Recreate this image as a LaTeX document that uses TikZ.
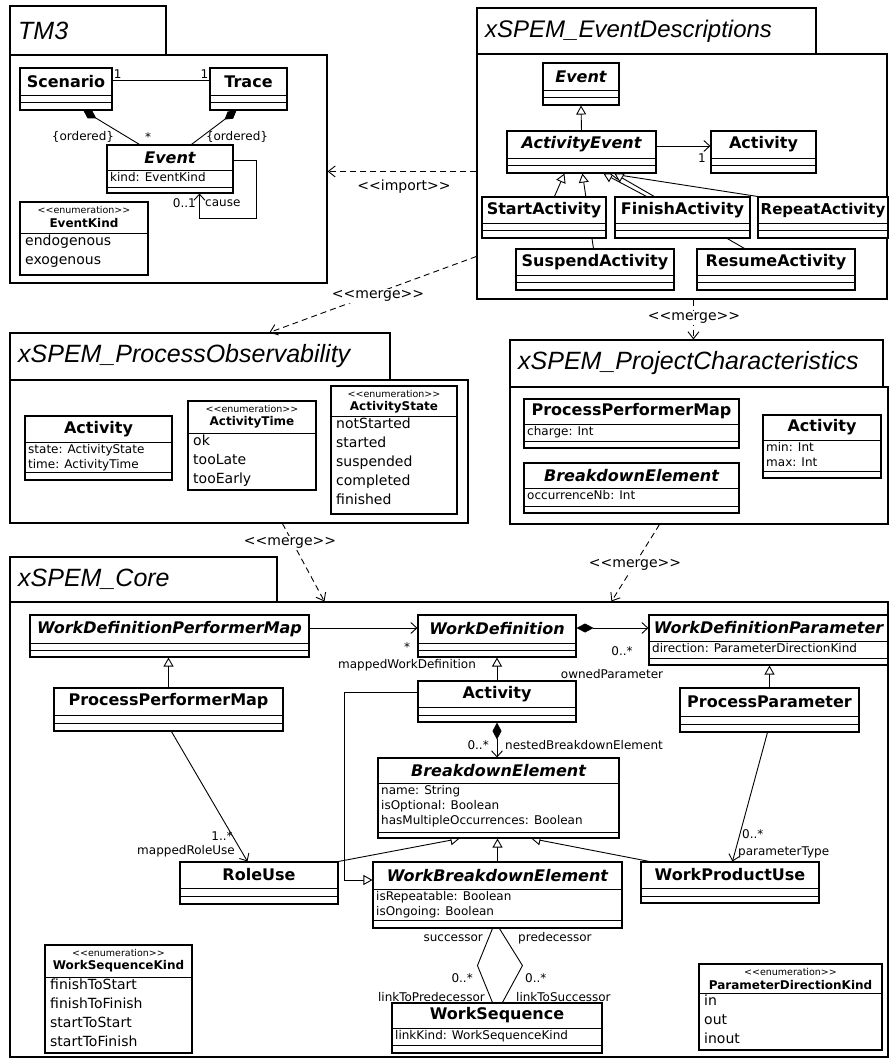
\documentclass[tikz,border=0pt]{standalone}
\usepackage{fontspec}
\setmainfont{DejaVu Sans}
\newfontfamily\ttlfont{Liberation Sans}
\usetikzlibrary{arrows.meta,fit,calc}
\pgfdeclarelayer{bgl}
\pgfdeclarelayer{edgel}
\pgfsetlayers{bgl,edgel,main}
\newcommand{\ster}[1]{<\kern0pt<#1>\kern0pt>}
\tikzset{
  cls/.style={draw, fill=white, inner sep=0pt, line width=1.1pt},
  pkg/.style={draw, inner sep=0pt, line width=1.1pt},
  divl/.style={line width=0.8pt},
  cname/.style={font={\bfseries\fontsize{16}{18}\selectfont}, inner sep=0pt},
  attr/.style={font={\fontsize{12}{15}\selectfont}, inner sep=2pt, align=left},
  lit/.style={font={\fontsize{14}{19}\selectfont}, inner sep=2pt, align=left},
  stfont/.style={font={\fontsize{9.5}{11}\selectfont}, inner sep=0pt},
  enname/.style={font={\bfseries\fontsize{12}{14}\selectfont}, inner sep=0pt},
  lnk/.style={line width=0.9pt},
  gen/.style={lnk, -{Triangle[open, fill=white, length=9pt, width=10pt]}},
  nav/.style={lnk, -{Straight Barb[length=6pt, width=11pt]}},
  compnav/.style={lnk, {Diamond[length=17pt, width=9pt]}-{Straight Barb[length=6pt, width=11pt]}},
  compo/.style={lnk, {Diamond[length=15pt, width=9pt]}-},
  depnd/.style={lnk, dash pattern=on 6pt off 4pt, -{Straight Barb[length=7pt, width=11pt]}},
  mult/.style={font={\fontsize{12}{14}\selectfont}, inner sep=1pt},
  sterl/.style={font={\fontsize{14}{16}\selectfont}, inner sep=1pt, fill=white},
}
% class: name, x1, y1, x2, y2, div1, div2, title, attributes
\newcommand{\ucls}[9]{%
  \node[cls, fit={(#2,#3) (#4,#5)}] (#1) {};
  \draw[divl] (#2,#6) -- (#4,#6) (#2,#7) -- (#4,#7);
  \node[cname] at ({(#2+#4)/2},{(#3+#6)/2}) {#8};
  \node[attr, anchor=north west] at ({#2+1},{#6}) {#9};
}
% enumeration: name, x1, y1, x2, y2, div, title, literals
\newcommand{\uenum}[8]{%
  \node[cls, fit={(#2,#3) (#4,#5)}] (#1) {};
  \draw[divl] (#2,#6) -- (#4,#6);
  \node[stfont] at ({(#2+#4)/2},{#3+8}) {\ster{enumeration}};
  \node[enname] at ({(#2+#4)/2},{#3+21.5}) {#7};
  \node[lit, anchor=north west] at ({#2+3},{#6}) {#8};
}
% package: name, x1, y1, tab x2, tab y2, body x2, body y2, title, size
\newcommand{\upkg}[9]{%
  \node[pkg, fit={(#2,#3) (#4,#5)}] (#1tab) {};
  \node[pkg, fit={(#2,#5) (#6,#7)}] (#1) {};
  \node[anchor=west, inner sep=0pt, font={\ttlfont\itshape\fontsize{#9}{#9}\selectfont}] at ({#2+8},{(#3+#5)/2}) {#8};
}
\begin{document}
\begin{tikzpicture}[x=1pt,y=-1pt]
\useasboundingbox (0,0) rectangle (889,1059);
\begin{pgfonlayer}{bgl}
\fill[white] (0,0) rectangle (889,1059);
\end{pgfonlayer}

% ---------- TM3 ----------
\upkg{tm}{10}{6}{166}{55}{327}{283}{TM3}{25}
\ucls{scen}{20}{68}{112}{110}{95}{102.5}{Scenario}{}
\ucls{trace}{210}{68}{287}{110}{95}{102.5}{Trace}{}
\ucls{ev}{107}{145}{233}{193}{170}{187}{\itshape Event}{kind: EventKind}
\uenum{evk}{20}{202}{148}{275}{233}{EventKind}{endogenous\\exogenous}

% ---------- xSPEM_EventDescriptions ----------
\upkg{ed}{477}{8}{816}{54}{887}{299}{xSPEM\_EventDescriptions}{24}
\ucls{edev}{543}{63}{619}{105}{90}{97.5}{\itshape Event}{}
\ucls{ae}{507}{131}{656}{173}{158}{165.5}{\itshape ActivityEvent}{}
\ucls{edact}{711}{131}{816}{173}{158}{165.5}{Activity}{}
\ucls{sa}{482}{197}{606}{238}{223}{230.5}{StartActivity}{}
\ucls{fa}{615}{197}{750}{238}{223}{230.5}{FinishActivity}{}
\ucls{ra}{758}{197}{888}{238}{223}{230.5}{\fontsize{15}{17}\selectfont RepeatActivity}{}
\ucls{susp}{516}{249}{674}{290}{275}{282.5}{SuspendActivity}{}
\ucls{res}{697}{249}{855}{290}{275}{282.5}{ResumeActivity}{}

% ---------- xSPEM_ProcessObservability ----------
\upkg{po}{10}{333}{390}{380}{468}{523}{xSPEM\_ProcessObservability}{25}
\ucls{poact}{25}{416}{172}{480}{442}{472}{Activity}{state: ActivityState\\time: ActivityTime}
\uenum{atime}{188}{401}{316}{490}{433}{ActivityTime}{ok\\tooLate\\tooEarly}
\uenum{astate}{331}{386}{457}{514}{416}{ActivityState}{notStarted\\started\\suspended\\completed\\finished}

% ---------- xSPEM_ProjectCharacteristics ----------
\upkg{pc}{510}{340}{883}{387}{888}{524}{xSPEM\_ProjectCharacteristics}{25}
\ucls{pcppm}{524}{399}{739}{448}{424}{441}{ProcessPerformerMap}{charge: Int}
\ucls{pcbe}{524}{463}{739}{513}{488}{506}{\itshape BreakdownElement}{occurrenceNb: Int}
\ucls{pcact}{763}{415}{881}{478}{440}{471}{Activity}{min: Int\\max: Int}

% ---------- xSPEM_Core ----------
\upkg{core}{10}{557}{277}{602}{888}{1057}{xSPEM\_Core}{25}
\ucls{wdpm}{30}{615}{309}{657}{643}{650}{\itshape WorkDefinitionPerformerMap}{}
\ucls{ppm}{54}{688}{283}{731}{715}{723}{ProcessPerformerMap}{}
\ucls{wd}{418}{615}{576}{657}{643}{650}{\itshape WorkDefinition}{}
\ucls{cact}{418}{681}{576}{722}{707}{715}{Activity}{}
\ucls{wdp}{649}{615}{888}{665}{641}{658}{\itshape WorkDefinitionParameter}{direction: ParameterDirectionKind}
\ucls{pp}{680}{688}{859}{732}{716}{724}{ProcessParameter}{}
\ucls{be}{378}{758}{619}{838}{783}{832}{\itshape BreakdownElement}{name: String\\isOptional: Boolean\\hasMultipleOccurrences: Boolean}
\ucls{ru}{180}{862}{338}{904}{888}{896}{RoleUse}{}
\ucls{wbe}{373}{862}{622}{928}{889}{920}{\itshape WorkBreakdownElement}{isRepeatable: Boolean\\isOngoing: Boolean}
\ucls{wpu}{641}{862}{819}{903}{888}{896}{WorkProductUse}{}
\ucls{ws}{392}{1003}{602}{1053}{1028}{1045}{WorkSequence}{linkKind: WorkSequenceKind}
\uenum{wsk}{45}{945}{192}{1053}{977}{WorkSequenceKind}{finishToStart\\finishToFinish\\startToStart\\startToFinish}
\uenum{pdk}{699}{964}{882}{1050}{993}{ParameterDirectionKind}{in\\out\\inout}

% ---------- connectors ----------
\begin{pgfonlayer}{edgel}
% TM3
\draw[lnk] ([yshift=9]scen.east) -- ([yshift=9]trace.west);
\draw[compo] ($(scen.south west)+(64,0)$) -- ($(ev.north west)+(33,0)$);
\draw[compo] ($(trace.south west)+(27,0)$) -- ($(ev.north west)+(85,0)$);
\draw[nav] ([yshift=9]ev.east) -- ++(23,0) -- ++(0,58) -| ($(ev.south west)+(93,0)$);
% EventDescriptions
\draw[gen] (ae.north) -- (edev.south);
\draw[nav] ([yshift=6]ae.east) -- ([yshift=6]ae.east -| edact.west);
\draw[gen] ($(sa.north west)+(73,0)$) -- ($(ae.south west)+(58,0)$);
\draw[gen] ($(susp.north west)+(78,0)$) -- ($(ae.south west)+(76,0)$);
\draw[gen] ($(fa.north west)+(32,0)$) -- ($(ae.south west)+(97,0)$);
\draw[gen] (ra.north west) -- ($(ae.south west)+(103,0)$);
\draw[gen] ($(res.north west)+(48,0)$) -- ($(ae.south west)+(108,0)$);
% package dependencies
\coordinate (impS) at ($(ed.north west)+(0,118)$);
\draw[depnd] (impS) -- (impS -| tm.east);
\draw[depnd] ($(ed.north west)+(0,203)$) -- ($(potab.north west)+(260,0)$);
\draw[depnd] ($(ed.south west)+(217,0)$) -- ($(pctab.north west)+(184,0)$);
\draw[depnd] ($(po.south west)+(273,0)$) -- ($(core.north west)+(315,0)$);
\draw[depnd] ($(pc.south west)+(150,0)$) -- ($(core.north west)+(602,0)$);
% Core
\draw[nav] ([yshift=8]wdpm.east) -- ([yshift=8]wdpm.east -| wd.west);
\draw[gen] (ppm.north) -- (ppm.north |- wdpm.south);
\draw[compnav] ([yshift=8]wd.east) -- ([yshift=8]wd.east -| wdp.west);
\draw[gen] (cact.north) -- (cact.north |- wd.south);
\draw[compnav] (cact.south) -- (cact.south |- be.north);
\draw[gen] (pp.north) -- (pp.north |- wdp.south);
\draw[gen] ([yshift=9]cact.west) -- ++(-73,0) |- ([yshift=15]wbe.west);
\draw[gen] (ru.north east) -- ($(be.south west)+(82,0)$);
\draw[gen] (wbe.north) -- (wbe.north |- be.south);
\draw[gen] ($(wpu.north west)+(9,0)$) -- ($(be.south west)+(154,0)$);
\draw[nav] ($(ppm.south west)+(118,0)$) -- ($(ru.north west)+(68,0)$);
\draw[nav] ($(pp.south west)+(88,0)$) -- ($(wpu.north west)+(92,0)$);
\draw[lnk] ($(wbe.south west)+(120,0)$) -- ($(wbe.south west)+(105,37)$) -- ($(ws.north west)+(101,0)$);
\draw[lnk] ($(wbe.south west)+(127,0)$) -- ($(wbe.south west)+(150,37)$) -- ($(ws.north west)+(111,0)$);
\end{pgfonlayer}

% ---------- labels ----------
\node[mult, anchor=south west] at ([yshift=9]scen.east) {1};
\node[mult, anchor=south east] at ([yshift=9]trace.west) {1};
\node[mult] at (83,137) {\{ordered\}};
\node[mult] at (148,137) {*};
\node[mult] at (237,137) {\{ordered\}};
\node[mult, anchor=east] at (197,203) {0..1};
\node[mult, anchor=west] at (204,203) {cause};
\node[mult] at (702,158) {1};
\node[sterl] at (404,187) {\ster{import}};
\node[sterl] at (378,296) {\ster{merge}};
\node[sterl] at (694,318) {\ster{merge}};
\node[sterl] at (290,543) {\ster{merge}};
\node[sterl] at (635,565) {\ster{merge}};
\node[mult] at (407,647) {*};
\node[mult] at (407,665) {mappedWorkDefinition};
\node[mult] at (622,651) {0..*};
\node[mult] at (612,674) {ownedParameter};
\node[mult, anchor=east] at (490,745) {0..*};
\node[mult, anchor=west] at (504,745) {nestedBreakdownElement};
\node[mult] at (222,836) {1..*};
\node[mult, anchor=east] at (236,851) {mappedRoleUse};
\node[mult, anchor=west] at (741,834) {0..*};
\node[mult, anchor=west] at (737,852) {parameterType};
\node[mult, anchor=east] at (484,938) {successor};
\node[mult, anchor=west] at (517,938) {predecessor};
\node[mult, anchor=east] at (474,978) {0..*};
\node[mult, anchor=west] at (524,978) {0..*};
\node[mult, anchor=east] at (486,997) {linkToPredecessor};
\node[mult, anchor=west] at (515,997) {linkToSuccessor};
\end{tikzpicture}
\end{document}
